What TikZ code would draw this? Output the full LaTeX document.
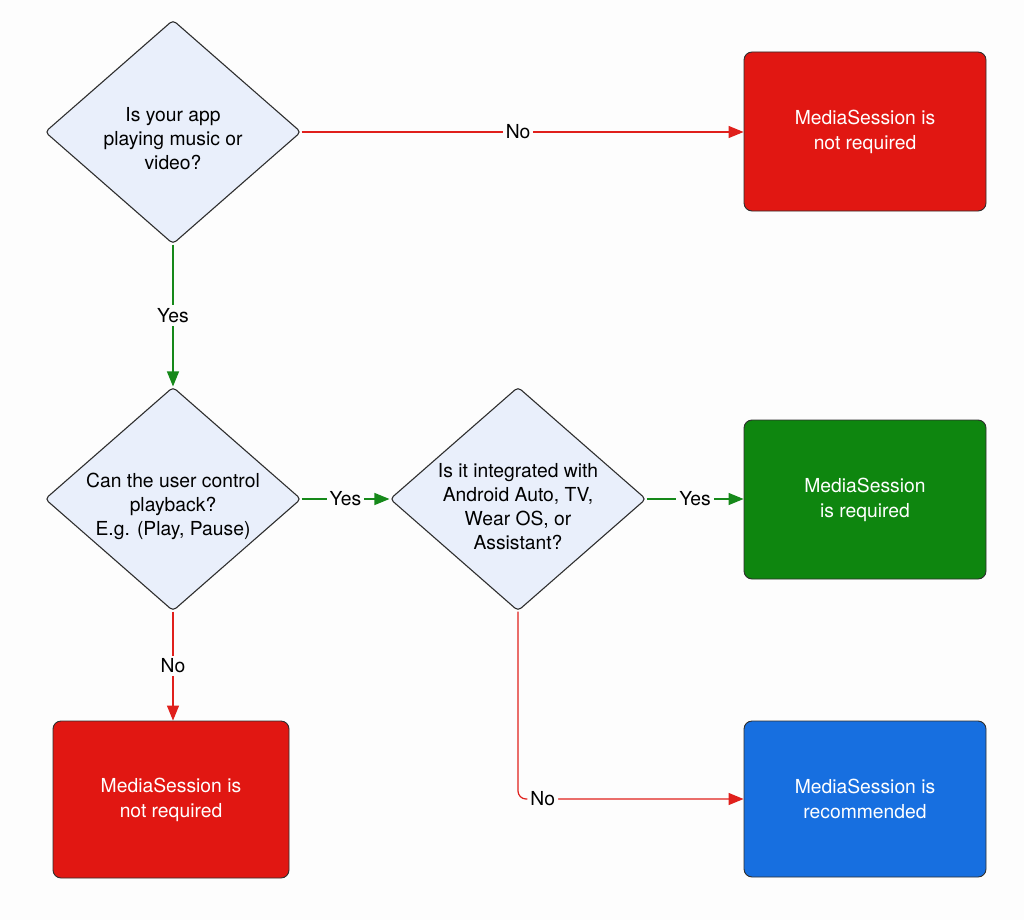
\documentclass[tikz,border=0pt]{standalone}
\usepackage{fontspec}
\setmainfont{TeX Gyre Heros}
\usetikzlibrary{arrows.meta,shapes.geometric}
\definecolor{dfill}{HTML}{E9EFFB}
\definecolor{rbox}{HTML}{E11712}
\definecolor{gbox}{HTML}{0E860F}
\definecolor{bbox}{HTML}{176FE0}
\definecolor{rline}{HTML}{E0201C}
\definecolor{gline}{HTML}{16891A}
\definecolor{edgecol}{HTML}{2E2E2E}
\definecolor{bg}{HTML}{FDFDFD}
\begin{document}
\begin{tikzpicture}[x=1pt,y=-1pt,
  font=\fontsize{19.3}{24}\selectfont,
  dec/.style={diamond, draw=edgecol, line width=1.1pt, fill=dfill, rounded corners=4pt,
    minimum width=256pt, minimum height=224pt, inner sep=0pt, aspect=1.143},
  dtext/.style={align=center, text=black},
  res/.style={draw=edgecol, line width=0.9pt, rounded corners=8pt, minimum width=242pt,
    minimum height=159pt, text=white, align=center, font=\fontsize{19.3}{25}\selectfont},
  yesline/.style={draw=gline, line width=1.2pt, -{Triangle[length=15pt,width=12pt]}},
  noline/.style={draw=rline, line width=1.2pt, -{Triangle[length=15pt,width=12pt]}},
  lab/.style={fill=bg, inner sep=3pt, text=black}
]
\fill[bg] (0,0) rectangle (1024,920);
\useasboundingbox (0,0) rectangle (1024,920);

\node[dec] (d1) at (173,132) {};
\node[dtext] at (173,139) {Is your app\\playing music or\\video?};
\node[dec] (d2) at (173,499) {};
\node[dtext] at (173,506) {Can the user control\\playback?\\E.g. (Play, Pause)};
\node[dec] (d3) at (518,499) {};
\node[dtext] at (518,507) {Is it integrated with\\Android Auto, TV,\\Wear OS, or\\Assistant?};

\node[res, fill=rbox] (r1) at (865,131.5) {MediaSession is\\not required};
\node[res, fill=gbox] (g) at (865,499.5) {MediaSession\\is required};
\node[res, fill=rbox, minimum width=236pt, minimum height=157pt] (r2) at (171,799.5) {MediaSession is\\not required};
\node[res, fill=bbox, minimum height=156pt] (b) at (865,799) {MediaSession is\\recommended};

\draw[noline] (d1.east) -- node[lab, pos=0.49]{No} (r1.west |- d1.east);
\draw[yesline] (d1.south) -- node[lab]{Yes} (d2.north);
\draw[yesline] (d2.east) -- node[lab]{Yes} (d3.west);
\draw[yesline] (d3.east) -- node[lab]{Yes} (g.west |- d3.east);
\draw[noline] (d2.south) -- node[lab]{No} (d2.south |- r2.north);
\draw[noline, rounded corners=8pt] (d3.south) |- node[lab, pos=0.555]{No} (b.west);
\end{tikzpicture}
\end{document}
